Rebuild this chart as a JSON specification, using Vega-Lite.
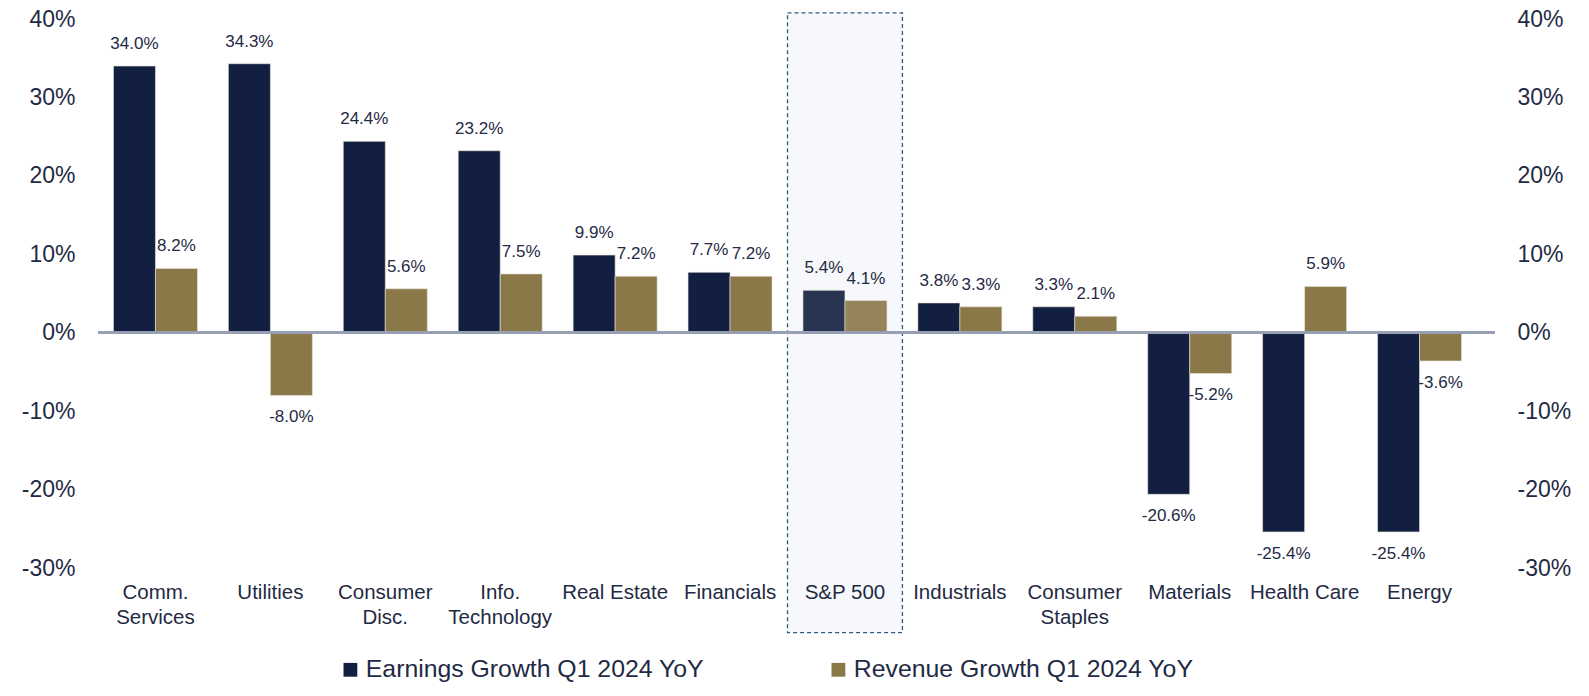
{
  "$schema": "https://vega.github.io/schema/vega-lite/v6.json",
  "width": 1397,
  "height": 549,
  "autosize": {"type": "none"},
  "padding": {"left": 98, "top": 19, "right": 94, "bottom": 128},
  "background": "white",
  "config": {
    "view": {"stroke": null},
    "font": "Liberation Sans",
    "axis": {"labelColor": "#1f2a44", "domain": false, "ticks": false, "grid": false, "title": null}
  },
  "data": {
    "values": [
      {"category": "Comm. Services", "series": "Earnings Growth Q1 2024 YoY", "value": 34.0},
      {"category": "Comm. Services", "series": "Revenue Growth Q1 2024 YoY", "value": 8.2},
      {"category": "Utilities", "series": "Earnings Growth Q1 2024 YoY", "value": 34.3},
      {"category": "Utilities", "series": "Revenue Growth Q1 2024 YoY", "value": -8.0},
      {"category": "Consumer Disc.", "series": "Earnings Growth Q1 2024 YoY", "value": 24.4},
      {"category": "Consumer Disc.", "series": "Revenue Growth Q1 2024 YoY", "value": 5.6},
      {"category": "Info. Technology", "series": "Earnings Growth Q1 2024 YoY", "value": 23.2},
      {"category": "Info. Technology", "series": "Revenue Growth Q1 2024 YoY", "value": 7.5},
      {"category": "Real Estate", "series": "Earnings Growth Q1 2024 YoY", "value": 9.9},
      {"category": "Real Estate", "series": "Revenue Growth Q1 2024 YoY", "value": 7.2},
      {"category": "Financials", "series": "Earnings Growth Q1 2024 YoY", "value": 7.7},
      {"category": "Financials", "series": "Revenue Growth Q1 2024 YoY", "value": 7.2},
      {"category": "S&P 500", "series": "Earnings Growth Q1 2024 YoY", "value": 5.4},
      {"category": "S&P 500", "series": "Revenue Growth Q1 2024 YoY", "value": 4.1},
      {"category": "Industrials", "series": "Earnings Growth Q1 2024 YoY", "value": 3.8},
      {"category": "Industrials", "series": "Revenue Growth Q1 2024 YoY", "value": 3.3},
      {"category": "Consumer Staples", "series": "Earnings Growth Q1 2024 YoY", "value": 3.3},
      {"category": "Consumer Staples", "series": "Revenue Growth Q1 2024 YoY", "value": 2.1},
      {"category": "Materials", "series": "Earnings Growth Q1 2024 YoY", "value": -20.6},
      {"category": "Materials", "series": "Revenue Growth Q1 2024 YoY", "value": -5.2},
      {"category": "Health Care", "series": "Earnings Growth Q1 2024 YoY", "value": -25.4},
      {"category": "Health Care", "series": "Revenue Growth Q1 2024 YoY", "value": 5.9},
      {"category": "Energy", "series": "Earnings Growth Q1 2024 YoY", "value": -25.4},
      {"category": "Energy", "series": "Revenue Growth Q1 2024 YoY", "value": -3.6}
    ]
  },
  "resolve": {"axis": {"y": "independent", "x": "independent"}},
  "layer": [
    {
      "transform": [{"filter": "datum.category == 'S&P 500' && datum.series == 'Earnings Growth Q1 2024 YoY'"}],
      "mark": {"type": "rect", "fill": "#f6f8fb", "stroke": "#2c5a82", "strokeDash": [4, 3], "strokeWidth": 1.3},
      "encoding": {
        "x": {
          "field": "category", "type": "nominal",
          "scale": {
            "domain": ["Comm. Services", "Utilities", "Consumer Disc.", "Info. Technology", "Real Estate", "Financials", "S&P 500", "Industrials", "Consumer Staples", "Materials", "Health Care", "Energy"],
            "range": [0, 1379], "paddingInner": 0, "paddingOuter": 0
          },
          "axis": null
        },
        "y": {"datum": 40.77, "type": "quantitative", "scale": {"domain": [-30, 40], "nice": false, "zero": false}, "axis": null},
        "y2": {"datum": -38.25}
      }
    },
    {
      "mark": {"type": "bar", "stroke": "#e8e4d8", "strokeWidth": 0.6},
      "encoding": {
        "x": {
          "field": "category", "type": "nominal",
          "axis": {
            "zindex": 1,
            "labelAngle": 0,
            "labelFontSize": 20.5,
            "labelPadding": 14,
            "labelBaseline": "top",
            "labelLineHeight": 25,
            "labelLimit": 200,
            "labelExpr": "datum.label == 'Comm. Services' ? ['Comm.', 'Services'] : datum.label == 'Consumer Disc.' ? ['Consumer', 'Disc.'] : datum.label == 'Info. Technology' ? ['Info.', 'Technology'] : datum.label == 'Consumer Staples' ? ['Consumer', 'Staples'] : datum.label"
          }
        },
        "xOffset": {
          "field": "series", "type": "nominal",
          "scale": {"paddingInner": 0, "paddingOuter": 0.368}
        },
        "y": {
          "field": "value", "type": "quantitative",
          "axis": {
            "orient": "left",
            "values": [-30, -20, -10, 0, 10, 20, 30, 40],
            "labelExpr": "datum.value + '%'",
            "labelFontSize": 23,
            "labelPadding": 23
          }
        },
        "color": {
          "field": "series", "type": "nominal",
          "scale": {"domain": ["Earnings Growth Q1 2024 YoY", "Revenue Growth Q1 2024 YoY"], "range": ["#131f40", "#8b7848"]},
          "legend": {
            "title": null,
            "orient": "none",
            "direction": "horizontal",
            "legendX": 240,
            "legendY": 638,
            "symbolType": "square",
            "symbolSize": 190,
            "symbolStrokeWidth": 0,
            "labelFont": "Liberation Sans",
            "labelFontSize": 24.8,
            "labelColor": "#1f2a44",
            "labelOffset": 3,
            "labelLimit": 600,
            "columnPadding": 122
          }
        },
        "opacity": {"condition": {"test": "datum.category == 'S&P 500'", "value": 0.9}, "value": 1}
      }
    },
    {
      "mark": {"type": "rule", "color": "#97a0b3", "strokeWidth": 2},
      "encoding": {
        "y": {"datum": 0, "type": "quantitative", "axis": null}
      }
    },
    {
      "transform": [
        {"filter": "datum.value >= 0"},
        {"calculate": "format(datum.value, '.1f') + '%'", "as": "label"}
      ],
      "mark": {"type": "text", "fontSize": 17, "color": "#1f2a44", "baseline": "middle", "dy": -22},
      "encoding": {
        "x": {"field": "category", "type": "nominal", "axis": null},
        "xOffset": {"field": "series", "type": "nominal"},
        "y": {
          "field": "value", "type": "quantitative",
          "axis": {
            "orient": "right",
            "values": [-30, -20, -10, 0, 10, 20, 30, 40],
            "labelExpr": "datum.value + '%'",
            "labelFontSize": 23,
            "labelPadding": 22
          }
        },
        "text": {"field": "label", "type": "nominal"}
      }
    },
    {
      "transform": [
        {"filter": "datum.value < 0"},
        {"calculate": "'-' + format(abs(datum.value), '.1f') + '%'", "as": "label"}
      ],
      "mark": {"type": "text", "fontSize": 17, "color": "#1f2a44", "baseline": "middle", "dy": 22},
      "encoding": {
        "x": {"field": "category", "type": "nominal", "axis": null},
        "xOffset": {"field": "series", "type": "nominal"},
        "y": {"field": "value", "type": "quantitative", "axis": null},
        "text": {"field": "label", "type": "nominal"}
      }
    }
  ]
}
